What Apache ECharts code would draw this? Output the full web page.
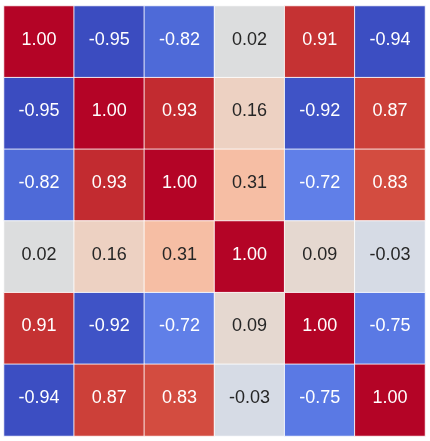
<!DOCTYPE html>
<html>
<head>
<meta charset="utf-8">
<script src="https://cdn.jsdelivr.net/npm/echarts@6/dist/echarts.min.js"></script>
<style>html,body{margin:0;padding:0;background:#fff;}#c{width:430px;height:441px;}</style>
</head>
<body>
<div id="c"></div>
<script>
var categories = ['A', 'B', 'C', 'D', 'E', 'F'];
var matrix = [
  [1.00, -0.95, -0.82, 0.02, 0.91, -0.94],
  [-0.95, 1.00, 0.93, 0.16, -0.92, 0.87],
  [-0.82, 0.93, 1.00, 0.31, -0.72, 0.83],
  [0.02, 0.16, 0.31, 1.00, 0.09, -0.03],
  [0.91, -0.92, -0.72, 0.09, 1.00, -0.75],
  [-0.94, 0.87, 0.83, -0.03, -0.75, 1.00]
];
var coolwarm = ['#3b4cc0','#445acc','#4d68d7','#5775e1','#6282ea','#6c8ef1','#779af7','#82a5fb','#8db0fe','#98b9ff','#a3c2ff','#aec9fd','#b8d0f9','#c2d5f4','#ccd9ee','#d5dbe6','#dddddd','#e5d8d1','#ecd3c5','#f1ccb9','#f5c4ad','#f7bba0','#f7b194','#f7a687','#f49a7b','#f18d6f','#ec7f63','#e57058','#de604d','#d55042','#cb3e38','#c0282f','#b40426'];

var data = [];
for (var r = 0; r < matrix.length; r++) {
  for (var c = 0; c < matrix[r].length; c++) {
    var v = matrix[r][c];
    data.push({
      value: [c, r, v],
      label: { color: Math.abs(v) < 0.5 ? '#262626' : '#ffffff' }
    });
  }
}

var chart = echarts.init(document.getElementById('c'));
chart.setOption({
  animation: false,
  grid: { left: 4, top: 6, width: 421, height: 430 },
  xAxis: { type: 'category', data: categories, show: false },
  yAxis: { type: 'category', data: categories, inverse: true, show: false },
  visualMap: { show: false, min: -0.95, max: 1, inRange: { color: coolwarm }, dimension: 2 },
  series: [{
    type: 'heatmap',
    data: data,
    itemStyle: { borderColor: 'rgba(255,255,255,0.85)', borderWidth: 1 },
    label: {
      show: true,
      fontFamily: 'Liberation Sans, Arial, sans-serif',
      fontSize: 18,
      offset: [0, -2],
      formatter: function (p) { return p.value[2].toFixed(2); }
    },
    emphasis: { disabled: true }
  }]
});
</script>
</body>
</html>
